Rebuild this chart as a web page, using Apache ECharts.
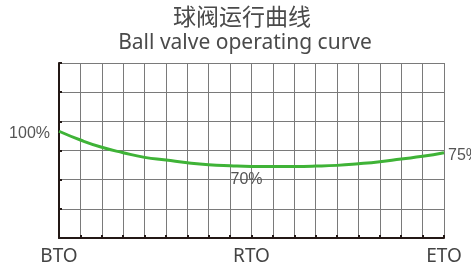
<!DOCTYPE html>
<html>
<head>
<meta charset="utf-8">
<script src="https://cdn.jsdelivr.net/npm/echarts@6/dist/echarts.min.js"></script>
<style>
  html, body { margin: 0; padding: 0; background: #fff; }
  #chart { width: 471px; height: 270px; }
</style>
</head>
<body>
<div id="chart"></div>
<script>
  // stroke positions along the valve travel, one per grid column
  const positions = ['BTO', '', '', '', '', '', '', '', '', 'RTO', '', '', '', '', '', '', '', '', 'ETO']
  // curve height in grid units (0..120, six rows)
  const torque = [73.2, 67.2, 62.2, 58.5, 55.3, 53.5, 51.6, 50.2, 49.5, 49.1, 49.1, 49.1, 49.3, 49.8, 50.9, 52.3, 54.2, 56.0, 58.5]
  const pointIdx = [0, 9, 18]
  const pointText = ['100%', '70%', '75%']

  const labelPos = ['left', 'bottom', 'right']
  const labelDist = [9, 5, 4]
  const labelOffset = [[0, 2], [-5, 0], [0, 3]]

  let data = torque.map((v, i) => {
    let k = pointIdx.indexOf(i)
    if (k < 0) return v
    return {
      value: v,
      label: {
        show: true,
        formatter: pointText[k],
        position: labelPos[k],
        distance: labelDist[k],
        offset: labelOffset[k],
        overflow: 'none',
        color: '#555',
        fontSize: 16,
        fontFamily: '"Liberation Sans", sans-serif'
      }
    }
  })

  let chart = echarts.init(document.getElementById('chart'))
  chart.setOption({
    animation: false,
    title: [{
      text: '球阀运行曲线',
      left: 237, top: 0, textAlign: 'center',
      textStyle: { fontSize: 23, fontWeight: 'normal', color: '#4a4a4a', fontFamily: 'Noto Sans CJK SC' }
    }, {
      text: 'Ball valve operating curve',
      left: 240, top: 28, textAlign: 'center',
      textStyle: { fontSize: 21, fontWeight: 'normal', color: '#4a4a4a', fontFamily: 'Noto Sans, sans-serif' }
    }],
    grid: { left: 59, right: 27, top: 63, bottom: 32 },
    xAxis: {
      type: 'category',
      data: positions,
      boundaryGap: false,
      axisLine: { lineStyle: { color: '#231815', width: 2 } },
      axisTick: { inside: true, length: 3, interval: 0, lineStyle: { color: '#231815', width: 2 } },
      axisLabel: { interval: 0, margin: 9, fontSize: 19, color: '#444', fontFamily: 'Noto Sans, sans-serif' },
      splitLine: { show: true, interval: 0, lineStyle: { color: '#7a7a7a', width: 1 } }
    },
    yAxis: {
      type: 'value',
      min: 0, max: 120, interval: 20,
      axisLine: { show: true, lineStyle: { color: '#231815', width: 2 } },
      axisTick: { show: true, inside: true, length: 3, lineStyle: { color: '#231815', width: 2 } },
      axisLabel: { show: false },
      splitLine: { show: true, lineStyle: { color: '#7a7a7a', width: 1 } }
    },
    series: [{
      type: 'line',
      data: data,
      smooth: true,
      symbol: 'circle',
      symbolSize: 0,
      lineStyle: { color: '#3fb337', width: 3 }
    }]
  })
</script>
</body>
</html>
